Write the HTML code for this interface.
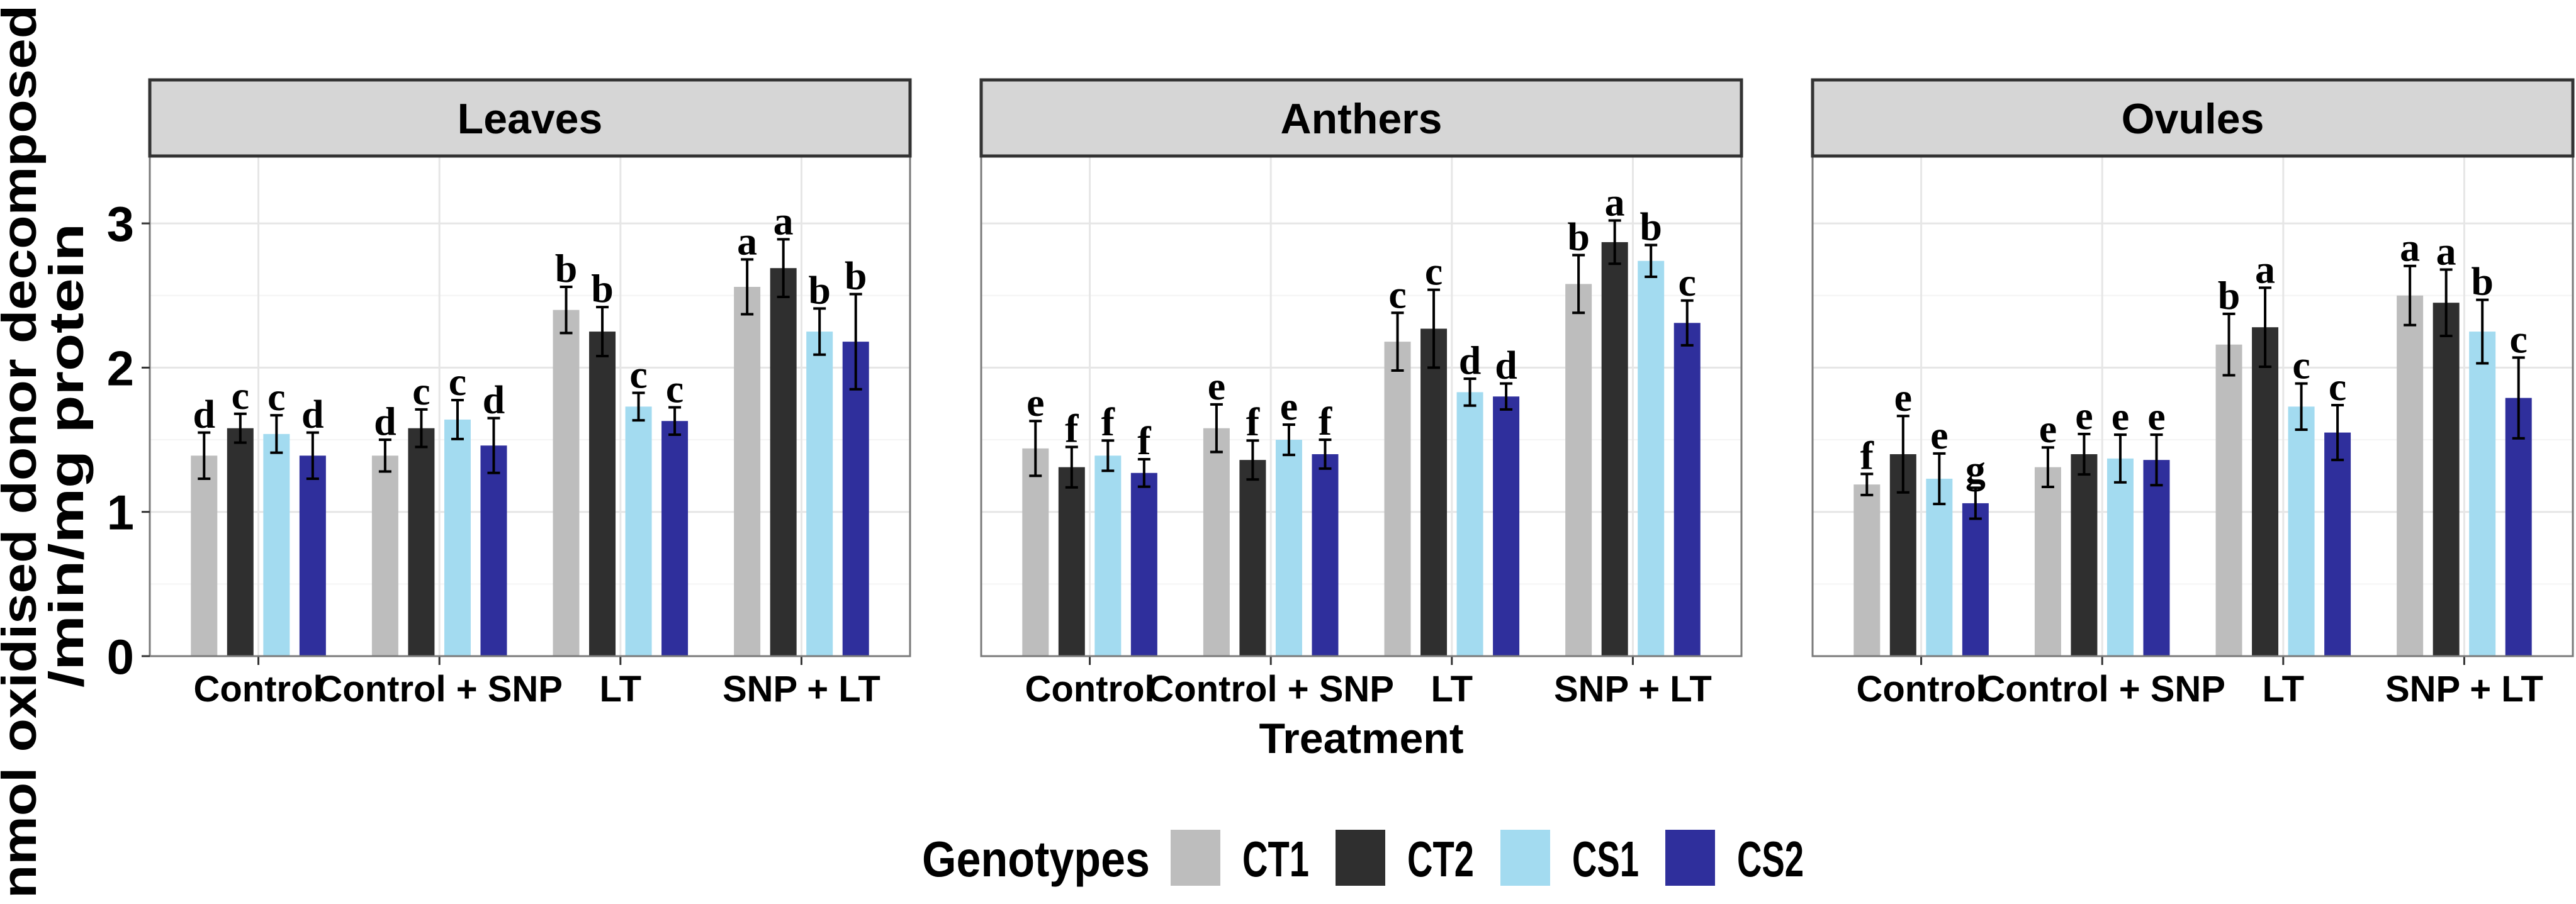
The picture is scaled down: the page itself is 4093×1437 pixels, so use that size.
<!DOCTYPE html>
<html><head><meta charset="utf-8"><style>
html,body{margin:0;padding:0;background:#fff;}
svg{display:block;}
text{font-family:"Liberation Sans",Arial,sans-serif;font-weight:bold;}
.lt{font-family:"Liberation Serif",serif;font-weight:bold;}
</style></head><body>
<svg id="chart" width="4093" height="1437" viewBox="0 0 4093 1437" xmlns="http://www.w3.org/2000/svg">
<g id="panels"></g>
<text transform="translate(57,718) rotate(-90)" text-anchor="middle" font-size="77" textLength="1420" lengthAdjust="spacingAndGlyphs">nmol oxidised donor decomposed</text>
<text transform="translate(132,724) rotate(-90)" text-anchor="middle" font-size="77" textLength="738" lengthAdjust="spacingAndGlyphs">/min/mg protein</text>
<text x="2163" y="1197" text-anchor="middle" font-size="68">Treatment</text>
<g id="legend">
<text x="1465" y="1393" font-size="80" textLength="362" lengthAdjust="spacingAndGlyphs">Genotypes</text>
</g>
</svg>
<script>
const tissues = ["Leaves","Anthers","Ovules"];
const categories = ["Control","Control + SNP","LT","SNP + LT"];
const genotypes = ["CT1","CT2","CS1","CS2"];
const colors = ["#bdbdbd","#2f2f2f","#a3dbf0","#2f2f9c"];
const yTicks = [0,1,2,3];
const leavesMean = [[1.39,1.58,1.54,1.39],[1.39,1.58,1.64,1.46],[2.40,2.25,1.73,1.63],[2.56,2.69,2.25,2.18]];
const leavesErr  = [[0.16,0.10,0.13,0.16],[0.11,0.13,0.135,0.19],[0.16,0.17,0.095,0.095],[0.19,0.20,0.16,0.33]];
const leavesLetters = [["d","c","c","d"],["d","c","c","d"],["b","b","c","c"],["a","a","b","b"]];
const anthersMean = [[1.44,1.31,1.39,1.27],[1.58,1.36,1.50,1.40],[2.18,2.27,1.83,1.80],[2.58,2.87,2.74,2.31]];
const anthersErr  = [[0.19,0.14,0.105,0.095],[0.165,0.135,0.105,0.10],[0.20,0.27,0.093,0.09],[0.20,0.15,0.11,0.155]];
const anthersLetters = [["e","f","f","f"],["e","f","e","f"],["c","c","d","d"],["b","a","b","c"]];
const ovulesMean = [[1.19,1.40,1.23,1.06],[1.31,1.40,1.37,1.36],[2.16,2.28,1.73,1.55],[2.50,2.45,2.25,1.79]];
const ovulesErr  = [[0.073,0.265,0.175,0.107],[0.137,0.14,0.165,0.175],[0.213,0.274,0.16,0.19],[0.205,0.23,0.22,0.28]];
const ovulesLetters = [["f","e","e","g"],["e","e","e","e"],["b","a","c","c"],["a","a","b","c"]];

const means = [leavesMean, anthersMean, ovulesMean];
const errs = [leavesErr, anthersErr, ovulesErr];
const letters = [leavesLetters, anthersLetters, ovulesLetters];

const NS = "http://www.w3.org/2000/svg";
const panelLefts = [238, 1559, 2880];
const panelW = 1208, panelTop = 248, panelBottom = 1043, stripTop = 127;
const yMax = (panelBottom - panelTop) / 229.3;
function yScale(v){ return panelBottom - v / yMax * (panelBottom - panelTop); }
const unit = panelW / 4.2;
function xScale(p, ci, gi){ return panelLefts[p] + (0.6 + ci + (gi - 1.5) * 0.2) * unit; }
function mk(tag, attrs, parent){ const e = document.createElementNS(NS, tag); for (const k in attrs) e.setAttribute(k, attrs[k]); parent.appendChild(e); return e; }
const root = document.getElementById('panels');

tissues.forEach((t, p) => {
  const L = panelLefts[p];
  const g = mk('g', {}, root);
  
  
  const bg = mk('rect', {x:L, y:panelTop, width:panelW, height:panelBottom-panelTop, fill:'#fff'}, g);
  
  
  [0.5,1.5,2.5,3.5].forEach(v => { if (v < yMax) { const l = mk('line', {x1:L, x2:L+panelW, y1:yScale(v), y2:yScale(v), stroke:'#f4f4f4', 'stroke-width':2}, g);
    
     } });
  yTicks.forEach(v => { const l = mk('line', {x1:L, x2:L+panelW, y1:yScale(v), y2:yScale(v), stroke:'#e6e6e6', 'stroke-width':3}, g);
    
     });
  categories.forEach((c, ci) => { const x = L + (0.6 + ci) * unit; const l = mk('line', {x1:x, x2:x, y1:panelTop, y2:panelBottom, stroke:'#e6e6e6', 'stroke-width':3}, g);
    
     });
  categories.forEach((c, ci) => {
    genotypes.forEach((gn, gi) => {
      const cx = xScale(p, ci, gi), v = means[p][ci][gi], e = errs[p][ci][gi];
      const bw = 0.146 * unit;
      const r = mk('rect', {x:cx-bw/2, y:yScale(v), width:bw, height:yScale(0)-yScale(v), fill:colors[gi]}, g);
      
      
      const eg = mk('g', {stroke:'#000', 'stroke-width':4}, g);
      
      
      mk('line', {x1:cx, x2:cx, y1:yScale(v+e), y2:yScale(v-e)}, eg);
      mk('line', {x1:cx-10, x2:cx+10, y1:yScale(v+e), y2:yScale(v+e)}, eg);
      mk('line', {x1:cx-10, x2:cx+10, y1:yScale(v-e), y2:yScale(v-e)}, eg);
      const tx = mk('text', {x:cx, y:yScale(v+e)-8, 'text-anchor':'middle', 'font-size':64, class:'lt'}, g);
      tx.textContent = letters[p][ci][gi];
      
      
    });
    const x = L + (0.6 + ci) * unit;
    const tk = mk('line', {x1:x, x2:x, y1:panelBottom, y2:panelBottom+14, stroke:'#333', 'stroke-width':3}, g);
    
    
    const lab = mk('text', {x:x, y:1115, 'text-anchor':'middle', 'font-size':58}, g);
    lab.textContent = c;
    
    
  });
  const border = mk('rect', {x:L, y:panelTop, width:panelW, height:panelBottom-panelTop, fill:'none', stroke:'#7a7a7a', 'stroke-width':3}, g);
  
  
  const strip = mk('rect', {x:L, y:stripTop, width:panelW, height:panelTop-stripTop, fill:'#d6d6d6', stroke:'#333', 'stroke-width':5}, g);
  
  
  const st = mk('text', {x:L+panelW/2, y:panelTop-36, 'text-anchor':'middle', 'font-size':68}, g);
  st.textContent = t;
  
  
  if (p === 0) {
    yTicks.forEach(v => {
      const tk = mk('line', {x1:225, x2:L, y1:yScale(v), y2:yScale(v), stroke:'#333', 'stroke-width':3}, g);
      
      
      const lb = mk('text', {x:213, y:yScale(v)+28, 'text-anchor':'end', 'font-size':78}, g);
      lb.textContent = String(v);
      
      
    });
  }
});

const leg = document.getElementById('legend');
const keyLefts = [1860, 2122, 2384, 2646];
genotypes.forEach((gn, gi) => {
  const k = mk('rect', {x:keyLefts[gi], y:1319, width:79, height:89, fill:colors[gi]}, leg);
  
  
  const tx = mk('text', {x:keyLefts[gi]+114, y:1393, 'font-size':80, textLength:106, lengthAdjust:'spacingAndGlyphs'}, leg);
  tx.textContent = gn;
  
  
});
</script>
</body></html>
